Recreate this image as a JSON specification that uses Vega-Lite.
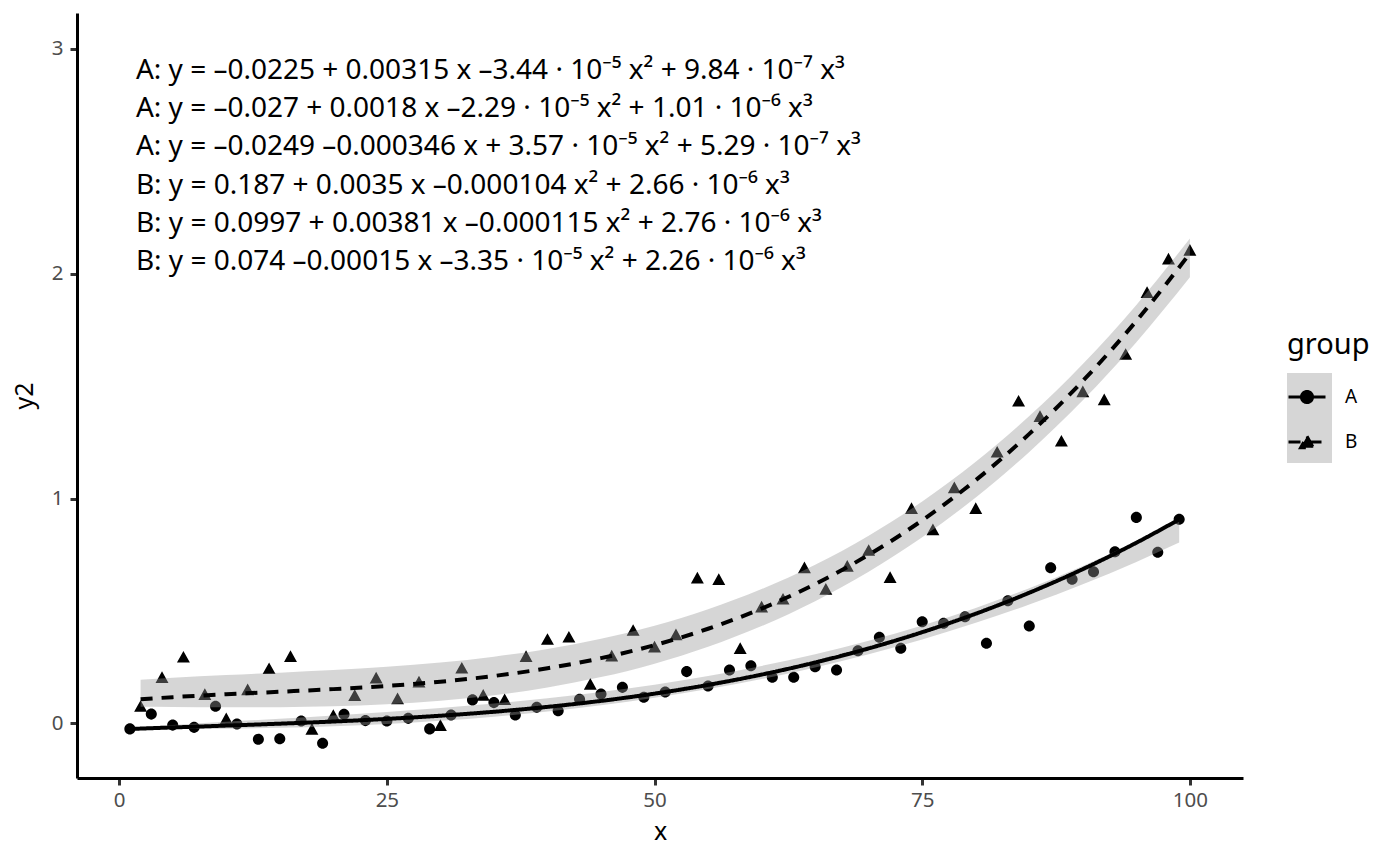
{
  "$schema": "https://vega.github.io/schema/vega-lite/v6.json",
  "width": 1166,
  "height": 765,
  "autosize": {"type": "none"},
  "padding": {"left": 77, "top": 13, "right": 157, "bottom": 88},
  "background": "white",
  "datasets": {
    "points": [
      {"x": 1, "y2": -0.025, "group": "A"}, {"x": 2, "y2": 0.077, "group": "B"},
      {"x": 3, "y2": 0.041, "group": "A"}, {"x": 4, "y2": 0.205, "group": "B"},
      {"x": 5, "y2": -0.008, "group": "A"}, {"x": 6, "y2": 0.296, "group": "B"},
      {"x": 7, "y2": -0.018, "group": "A"}, {"x": 8, "y2": 0.130, "group": "B"},
      {"x": 9, "y2": 0.076, "group": "A"}, {"x": 10, "y2": 0.022, "group": "B"},
      {"x": 11, "y2": -0.003, "group": "A"}, {"x": 12, "y2": 0.151, "group": "B"},
      {"x": 13, "y2": -0.071, "group": "A"}, {"x": 14, "y2": 0.245, "group": "B"},
      {"x": 15, "y2": -0.069, "group": "A"}, {"x": 16, "y2": 0.299, "group": "B"},
      {"x": 17, "y2": 0.010, "group": "A"}, {"x": 18, "y2": -0.025, "group": "B"},
      {"x": 19, "y2": -0.089, "group": "A"}, {"x": 20, "y2": 0.037, "group": "B"},
      {"x": 21, "y2": 0.040, "group": "A"}, {"x": 22, "y2": 0.125, "group": "B"},
      {"x": 23, "y2": 0.012, "group": "A"}, {"x": 24, "y2": 0.203, "group": "B"},
      {"x": 25, "y2": 0.010, "group": "A"}, {"x": 26, "y2": 0.111, "group": "B"},
      {"x": 27, "y2": 0.022, "group": "A"}, {"x": 28, "y2": 0.185, "group": "B"},
      {"x": 29, "y2": -0.025, "group": "A"}, {"x": 30, "y2": -0.008, "group": "B"},
      {"x": 31, "y2": 0.037, "group": "A"}, {"x": 32, "y2": 0.247, "group": "B"},
      {"x": 33, "y2": 0.104, "group": "A"}, {"x": 34, "y2": 0.126, "group": "B"},
      {"x": 35, "y2": 0.092, "group": "A"}, {"x": 36, "y2": 0.107, "group": "B"},
      {"x": 37, "y2": 0.037, "group": "A"}, {"x": 38, "y2": 0.299, "group": "B"},
      {"x": 39, "y2": 0.071, "group": "A"}, {"x": 40, "y2": 0.375, "group": "B"},
      {"x": 41, "y2": 0.056, "group": "A"}, {"x": 42, "y2": 0.385, "group": "B"},
      {"x": 43, "y2": 0.107, "group": "A"}, {"x": 44, "y2": 0.175, "group": "B"},
      {"x": 45, "y2": 0.130, "group": "A"}, {"x": 46, "y2": 0.301, "group": "B"},
      {"x": 47, "y2": 0.160, "group": "A"}, {"x": 48, "y2": 0.415, "group": "B"},
      {"x": 49, "y2": 0.116, "group": "A"}, {"x": 50, "y2": 0.341, "group": "B"},
      {"x": 51, "y2": 0.139, "group": "A"}, {"x": 52, "y2": 0.396, "group": "B"},
      {"x": 53, "y2": 0.230, "group": "A"}, {"x": 54, "y2": 0.648, "group": "B"},
      {"x": 55, "y2": 0.166, "group": "A"}, {"x": 56, "y2": 0.641, "group": "B"},
      {"x": 57, "y2": 0.237, "group": "A"}, {"x": 58, "y2": 0.334, "group": "B"},
      {"x": 59, "y2": 0.256, "group": "A"}, {"x": 60, "y2": 0.519, "group": "B"},
      {"x": 61, "y2": 0.205, "group": "A"}, {"x": 62, "y2": 0.554, "group": "B"},
      {"x": 63, "y2": 0.205, "group": "A"}, {"x": 64, "y2": 0.694, "group": "B"},
      {"x": 65, "y2": 0.252, "group": "A"}, {"x": 66, "y2": 0.598, "group": "B"},
      {"x": 67, "y2": 0.237, "group": "A"}, {"x": 68, "y2": 0.700, "group": "B"},
      {"x": 69, "y2": 0.323, "group": "A"}, {"x": 70, "y2": 0.771, "group": "B"},
      {"x": 71, "y2": 0.383, "group": "A"}, {"x": 72, "y2": 0.650, "group": "B"},
      {"x": 73, "y2": 0.334, "group": "A"}, {"x": 74, "y2": 0.957, "group": "B"},
      {"x": 75, "y2": 0.452, "group": "A"}, {"x": 76, "y2": 0.863, "group": "B"},
      {"x": 77, "y2": 0.445, "group": "A"}, {"x": 78, "y2": 1.050, "group": "B"},
      {"x": 79, "y2": 0.474, "group": "A"}, {"x": 80, "y2": 0.957, "group": "B"},
      {"x": 81, "y2": 0.356, "group": "A"}, {"x": 82, "y2": 1.208, "group": "B"},
      {"x": 83, "y2": 0.545, "group": "A"}, {"x": 84, "y2": 1.435, "group": "B"},
      {"x": 85, "y2": 0.433, "group": "A"}, {"x": 86, "y2": 1.367, "group": "B"},
      {"x": 87, "y2": 0.692, "group": "A"}, {"x": 88, "y2": 1.257, "group": "B"},
      {"x": 89, "y2": 0.641, "group": "A"}, {"x": 90, "y2": 1.477, "group": "B"},
      {"x": 91, "y2": 0.674, "group": "A"}, {"x": 92, "y2": 1.441, "group": "B"},
      {"x": 93, "y2": 0.763, "group": "A"}, {"x": 94, "y2": 1.643, "group": "B"},
      {"x": 95, "y2": 0.916, "group": "A"}, {"x": 96, "y2": 1.918, "group": "B"},
      {"x": 97, "y2": 0.761, "group": "A"}, {"x": 98, "y2": 2.067, "group": "B"},
      {"x": 99, "y2": 0.908, "group": "A"}, {"x": 100, "y2": 2.106, "group": "B"}
    ],
    "fits": [
      {"group": "A", "x": 1, "y2": -0.0252, "lower": -0.0252, "upper": -0.0194},
      {"group": "A", "x": 5, "y2": -0.0185, "lower": -0.0257, "upper": -0.0075},
      {"group": "A", "x": 10, "y2": -0.0103, "lower": -0.0243, "upper": 0.0065},
      {"group": "A", "x": 15, "y2": -0.0017, "lower": -0.0203, "upper": 0.0203},
      {"group": "A", "x": 20, "y2": 0.0079, "lower": -0.0133, "upper": 0.0346},
      {"group": "A", "x": 25, "y2": 0.0195, "lower": -0.0030, "upper": 0.0501},
      {"group": "A", "x": 30, "y2": 0.0337, "lower": 0.0111, "upper": 0.0676},
      {"group": "A", "x": 35, "y2": 0.0513, "lower": 0.0294, "upper": 0.0878},
      {"group": "A", "x": 40, "y2": 0.0730, "lower": 0.0522, "upper": 0.1114},
      {"group": "A", "x": 45, "y2": 0.0997, "lower": 0.0800, "upper": 0.1393},
      {"group": "A", "x": 50, "y2": 0.1320, "lower": 0.1132, "upper": 0.1720},
      {"group": "A", "x": 55, "y2": 0.1708, "lower": 0.1521, "upper": 0.2104},
      {"group": "A", "x": 60, "y2": 0.2167, "lower": 0.1971, "upper": 0.2552},
      {"group": "A", "x": 65, "y2": 0.2706, "lower": 0.2487, "upper": 0.3071},
      {"group": "A", "x": 70, "y2": 0.3332, "lower": 0.3073, "upper": 0.3670},
      {"group": "A", "x": 75, "y2": 0.4053, "lower": 0.3731, "upper": 0.4354},
      {"group": "A", "x": 80, "y2": 0.4876, "lower": 0.4468, "upper": 0.5132},
      {"group": "A", "x": 85, "y2": 0.5808, "lower": 0.5285, "upper": 0.6010},
      {"group": "A", "x": 90, "y2": 0.6858, "lower": 0.6188, "upper": 0.6997},
      {"group": "A", "x": 95, "y2": 0.8033, "lower": 0.7180, "upper": 0.8100},
      {"group": "A", "x": 99, "y2": 0.9068, "lower": 0.8040, "upper": 0.9070},
      {"group": "B", "x": 2, "y2": 0.1069, "lower": 0.0736, "upper": 0.1936},
      {"group": "B", "x": 5, "y2": 0.1162, "lower": 0.0727, "upper": 0.2022},
      {"group": "B", "x": 10, "y2": 0.1291, "lower": 0.0714, "upper": 0.2143},
      {"group": "B", "x": 15, "y2": 0.1403, "lower": 0.0718, "upper": 0.2251},
      {"group": "B", "x": 20, "y2": 0.1520, "lower": 0.0757, "upper": 0.2367},
      {"group": "B", "x": 25, "y2": 0.1662, "lower": 0.0846, "upper": 0.2511},
      {"group": "B", "x": 30, "y2": 0.1850, "lower": 0.1004, "upper": 0.2702},
      {"group": "B", "x": 35, "y2": 0.2105, "lower": 0.1246, "upper": 0.2962},
      {"group": "B", "x": 40, "y2": 0.2447, "lower": 0.1590, "upper": 0.3308},
      {"group": "B", "x": 45, "y2": 0.2898, "lower": 0.2054, "upper": 0.3763},
      {"group": "B", "x": 50, "y2": 0.3477, "lower": 0.2653, "upper": 0.4345},
      {"group": "B", "x": 55, "y2": 0.4206, "lower": 0.3404, "upper": 0.5075},
      {"group": "B", "x": 60, "y2": 0.5105, "lower": 0.4326, "upper": 0.5972},
      {"group": "B", "x": 65, "y2": 0.6194, "lower": 0.5434, "upper": 0.7056},
      {"group": "B", "x": 70, "y2": 0.7496, "lower": 0.6745, "upper": 0.8348},
      {"group": "B", "x": 75, "y2": 0.9030, "lower": 0.8278, "upper": 0.9867},
      {"group": "B", "x": 80, "y2": 1.0816, "lower": 1.0047, "upper": 1.1633},
      {"group": "B", "x": 85, "y2": 1.2877, "lower": 1.2071, "upper": 1.3667},
      {"group": "B", "x": 90, "y2": 1.5231, "lower": 1.4367, "upper": 1.5987},
      {"group": "B", "x": 95, "y2": 1.7901, "lower": 1.6951, "upper": 1.8615},
      {"group": "B", "x": 100, "y2": 2.0907, "lower": 1.9840, "upper": 2.1570}
    ],
    "labels": [
      {"line": 1, "label": "A: y = –0.0225 + 0.00315 x –3.44 · 10⁻⁵ x² + 9.84 · 10⁻⁷ x³"},
      {"line": 2, "label": "A: y = –0.027 + 0.0018 x –2.29 · 10⁻⁵ x² + 1.01 · 10⁻⁶ x³"},
      {"line": 3, "label": "A: y = –0.0249 –0.000346 x + 3.57 · 10⁻⁵ x² + 5.29 · 10⁻⁷ x³"},
      {"line": 4, "label": "B: y = 0.187 + 0.0035 x –0.000104 x² + 2.66 · 10⁻⁶ x³"},
      {"line": 5, "label": "B: y = 0.0997 + 0.00381 x –0.000115 x² + 2.76 · 10⁻⁶ x³"},
      {"line": 6, "label": "B: y = 0.074 –0.00015 x –3.35 · 10⁻⁵ x² + 2.26 · 10⁻⁶ x³"}
    ]
  },
  "layer": [
    {
      "layer": [
        {
          "data": {"name": "points"},
          "mark": {"type": "point", "filled": true, "color": "black", "opacity": 1, "size": 1369},
          "encoding": {
            "x": {
              "field": "x", "type": "quantitative", "title": "x",
              "scale": {"domain": [-3.94, 104.96], "nice": false, "zero": false},
              "axis": {"values": [0, 25, 50, 75, 100], "format": "d"}
            },
            "y": {
              "field": "y2", "type": "quantitative", "title": "y2",
              "scale": {"domain": [-0.2434, 3.1601], "nice": false, "zero": false},
              "axis": {"values": [0, 1, 2, 3], "format": "d"}
            },
            "shape": {
              "field": "group", "type": "nominal",
              "scale": {
                "domain": ["A", "B"],
                "range": [
                  "M-1,0H1M0.3,0A0.3,0.3,0,1,1,-0.3,0A0.3,0.3,0,1,1,0.3,0Z",
                  "M-1,0H1M0,-0.316L0.35,0.316L-0.35,0.316Z"
                ]
              },
              "legend": {
                "title": "group",
                "orient": "none",
                "legendX": 1210,
                "legendY": 318,
                "titleFontSize": 29,
                "titleFontWeight": "normal",
                "titleColor": "black",
                "titlePadding": 17,
                "labelFontSize": 19,
                "labelColor": "black",
                "labelOffset": 18,
                "symbolSize": 1369,
                "symbolStrokeColor": "black",
                "symbolStrokeWidth": 3,
                "rowPadding": 13,
                "zindex": 1,
                "encoding": {
                  "symbols": {
                    "stroke": {"value": "black"},
                    "strokeWidth": {"value": 3}
                  }
                }
              }
            }
          }
        },
        {
          "data": {"name": "fits"},
          "mark": {"type": "area", "opacity": 0.4, "interpolate": "monotone"},
          "encoding": {
            "x": {"field": "x", "type": "quantitative", "title": "x"},
            "y": {"field": "lower", "type": "quantitative", "title": "y2"},
            "y2": {"field": "upper"},
            "fill": {
              "field": "group", "type": "nominal",
              "scale": {"range": ["#999999", "#999999"]},
              "legend": {
                "title": null,
                "orient": "none",
                "legendX": 1210,
                "legendY": 360,
                "labelExpr": "''",
                "labelFontSize": 1,
                "symbolType": "square",
                "symbolSize": 2025,
                "symbolStrokeWidth": 0,
                "symbolStrokeColor": "transparent",
                "rowPadding": 0,
                "zindex": 0
              }
            }
          }
        },
        {
          "data": {"name": "fits"},
          "mark": {"type": "line", "color": "black", "strokeWidth": 4, "interpolate": "monotone"},
          "encoding": {
            "x": {"field": "x", "type": "quantitative", "title": "x"},
            "y": {"field": "y2", "type": "quantitative", "title": "y2"},
            "strokeDash": {
              "field": "group", "type": "nominal",
              "scale": {"domain": ["A", "B"], "range": [[1, 0], [12, 9]]}
            }
          }
        }
      ]
    },
    {
      "data": {"name": "labels"},
      "mark": {"type": "text", "align": "left", "baseline": "alphabetic", "font": "Noto Sans", "fontSize": 28, "color": "black"},
      "encoding": {
        "x": {"datum": 1.56, "type": "quantitative"},
        "y": {
          "field": "line", "type": "ordinal",
          "scale": {"type": "point", "range": [66, 257], "padding": 0},
          "axis": null
        },
        "text": {"field": "label"}
      }
    }
  ],
  "resolve": {"scale": {"y": "independent"}},
  "config": {
    "font": "Noto Sans",
    "view": {"stroke": null},
    "axis": {
      "grid": false,
      "domainColor": "black",
      "domainWidth": 3,
      "tickColor": "#333333",
      "tickWidth": 3,
      "tickSize": 7,
      "labelColor": "#4d4d4d",
      "labelFontSize": 20.5,
      "labelFont": "Noto Sans",
      "titleFont": "Noto Sans",
      "titleFontSize": 25,
      "titleFontWeight": "normal",
      "titleColor": "black",
      "labelPadding": 5
    },
    "axisX": {"titlePadding": 9, "labelAngle": 0, "domainWidth": 3},
    "axisY": {"titlePadding": 14, "labelPadding": 7, "domainWidth": 3}
  }
}
